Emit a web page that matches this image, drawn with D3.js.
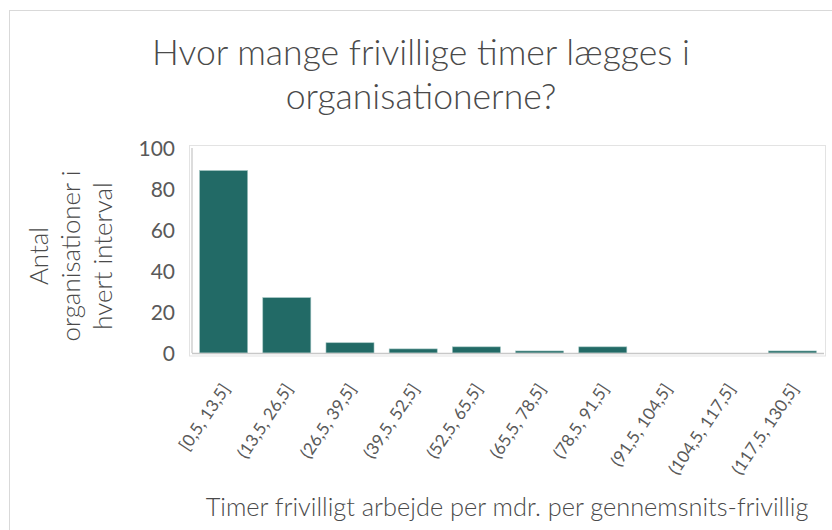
<!DOCTYPE html>
<html><head><meta charset="utf-8">
<script src="https://cdn.jsdelivr.net/npm/d3@7"></script>
<style>
html,body{margin:0;padding:0;background:#fff;}
svg{display:block;}
text{font-family:Lato,"Open Sans",sans-serif;fill:#595959;}
.light{font-weight:300;fill:#4a4a4a;}
</style></head>
<body>
<svg id="chart" width="832" height="530"></svg>
<script>
const categories = ["[0,5, 13,5]","(13,5, 26,5]","(26,5, 39,5]","(39,5, 52,5]","(52,5, 65,5]","(65,5, 78,5]","(78,5, 91,5]","(91,5, 104,5]","(104,5, 117,5]","(117,5, 130,5]"];
const counts = [89, 27, 5, 2, 3, 1, 3, 0, 0, 1];
const yTicks = [0, 20, 40, 60, 80, 100];
const titleLines = ["Hvor mange frivillige timer lægges i", "organisationerne?"];
const yTitleLines = ["Antal", "organisationer i", "hvert interval"];
const xTitle = "Timer frivilligt arbejde per mdr. per gennemsnits-frivillig";

const svg = d3.select("#chart");
const plot = {left: 192, right: 824, top: 148, bottom: 353};

// chart border
svg.append("rect").attr("x", 9.5).attr("y", 10.5).attr("width", 840).attr("height", 540)
  .attr("fill", "#fff").attr("stroke", "#d9d9d9");

function fitWidth(sel, target, startSize) {
  sel.style("font-size", startSize + "px");
  const w = sel.node().getComputedTextLength();
  const fs = startSize * target / w;
  sel.style("font-size", fs + "px");
  return fs;
}

// title
const t1 = svg.append("text").attr("class", "light").attr("x", 421).attr("y", 65).attr("text-anchor", "middle").text(titleLines[0]);
const tfs = fitWidth(t1, 538, 32);
svg.append("text").attr("class", "light").attr("x", 421).attr("y", 109).attr("text-anchor", "middle")
  .style("font-size", tfs + "px").text(titleLines[1]);

// scales
const x = d3.scaleBand().domain(categories).range([plot.left, plot.right]).paddingInner(0.24).paddingOuter(0.12);
const y = d3.scaleLinear().domain([0, 100]).range([plot.bottom, plot.top]);

// plot area frame
svg.append("rect").attr("x", 189.5).attr("y", 145.5).attr("width", 636).attr("height", 210.5)
  .attr("fill", "none").attr("stroke", "#e3e3e3");

// bars
svg.append("g").selectAll("rect").data(counts).join("rect")
  .attr("x", (d, i) => x(categories[i]))
  .attr("y", d => y(d))
  .attr("width", x.bandwidth())
  .attr("height", d => y(0) - y(d))
  .attr("fill", "#226a66")
  .attr("stroke", d => d > 0 ? "#9fc3c0" : "none")
  .attr("stroke-width", 0.6);

// axis lines
svg.append("line").attr("x1", plot.left).attr("x2", plot.left).attr("y1", plot.top).attr("y2", plot.bottom)
  .attr("stroke", "#d0d0d0").attr("stroke-width", 1.5);
svg.append("line").attr("x1", plot.left).attr("x2", plot.right).attr("y1", plot.bottom + 0.5).attr("y2", plot.bottom + 0.5)
  .attr("stroke", "#c8c8c8").attr("stroke-width", 1.5);

// y axis
const yAxis = d3.axisLeft(y).tickValues(yTicks).tickSize(0).tickPadding(0);
const gy = svg.append("g").attr("transform", `translate(175,0)`).call(yAxis);
gy.attr("font-family", null);
gy.select(".domain").remove();
gy.selectAll("text").style("font-size", "21px").style("fill", "#595959")
  .attr("dy", "0.35em").attr("x", 0);

// x axis (tick groups are already centred on each band)
const xAxis = d3.axisBottom(x).tickSize(0).tickPadding(0);
const gx = svg.append("g").attr("transform", `translate(0,${plot.bottom})`).call(xAxis);
gx.attr("font-family", null);
gx.select(".domain").remove();
const xl = gx.selectAll("text").style("fill", "#595959")
  .attr("text-anchor", "end").attr("dy", 0).attr("y", 0).attr("x", 0);
const xfs = fitWidth(d3.select(xl.nodes()[0]), 76, 16);
xl.style("font-size", xfs + "px")
  .attr("transform", `translate(7,36) rotate(-56)`);

// y title
const yt = svg.append("text").attr("class", "light").attr("transform", "translate(0,256) rotate(-90)").attr("text-anchor", "middle");
yTitleLines.forEach((l, i) => yt.append("tspan").attr("x", 0).attr("y", 48 + i * 32).text(l));
const probe = svg.append("text").attr("class", "light").text(yTitleLines[1]);
const yfs = fitWidth(probe, 171, 22);
probe.remove();
yt.style("font-size", yfs + "px");

// x title
const xt = svg.append("text").attr("class", "light").attr("x", 507).attr("y", 516).attr("text-anchor", "middle").text(xTitle);
fitWidth(xt, 603, 22);
</script>
</body></html>
